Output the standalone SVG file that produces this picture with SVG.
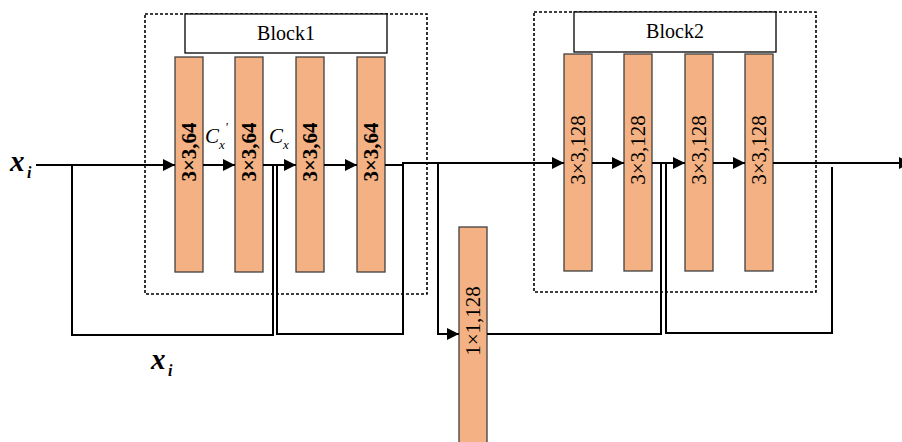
<svg xmlns="http://www.w3.org/2000/svg" width="902" height="442" viewBox="0 0 902 442">
<style>
.bar{fill:#F4B183;stroke:#404040;stroke-width:1.3}
.lbl{fill:#fff;stroke:#000;stroke-width:1.3}
.dash{fill:none;stroke:#000;stroke-width:1.6;stroke-dasharray:3,2}
.ln{fill:none;stroke:#000;stroke-width:2}
.bt{font-family:"Liberation Serif",serif;font-size:21px;text-anchor:middle;dominant-baseline:central;fill:#000}
.bold{font-weight:bold}
.tt{font-family:"Liberation Serif",serif;font-size:20px;text-anchor:middle;fill:#000}
.it{font-family:"Liberation Serif",serif;font-style:italic;fill:#000}
</style>
<defs>
<marker id="ah" markerUnits="userSpaceOnUse" markerWidth="13" markerHeight="13" refX="12" refY="6" orient="auto">
<path d="M0,0 L12,6 L0,12 Z" fill="#000"/>
</marker>
</defs>
<g id="block1-frame">
<rect class="dash" x="145" y="14" width="282" height="280"/>
<rect class="lbl" x="185" y="14" width="202" height="39"/>
<text class="tt" x="286" y="40">Block1</text>
</g>
<g id="block2-frame">
<rect class="dash" x="534" y="12" width="282" height="280"/>
<rect class="lbl" x="574" y="12" width="202" height="40"/>
<text class="tt" x="675" y="38">Block2</text>
</g>
<g id="b1c1"><rect class="bar" x="175" y="57" width="28" height="215"/><text class="bt bold" transform="translate(189,152) rotate(-90)">3×3,64</text></g>
<g id="b1c2"><rect class="bar" x="235" y="57" width="28" height="215"/><text class="bt bold" transform="translate(249,152) rotate(-90)">3×3,64</text></g>
<g id="b1c3"><rect class="bar" x="296" y="57" width="28" height="215"/><text class="bt bold" transform="translate(310,152) rotate(-90)">3×3,64</text></g>
<g id="b1c4"><rect class="bar" x="357" y="57" width="28" height="215"/><text class="bt bold" transform="translate(371,152) rotate(-90)">3×3,64</text></g>
<g id="b2c1"><rect class="bar" x="564" y="54" width="28" height="217"/><text class="bt" transform="translate(578,150) rotate(-90)">3×3,128</text></g>
<g id="b2c2"><rect class="bar" x="624" y="54" width="28" height="217"/><text class="bt" transform="translate(638,150) rotate(-90)">3×3,128</text></g>
<g id="b2c3"><rect class="bar" x="685" y="54" width="28" height="217"/><text class="bt" transform="translate(699,150) rotate(-90)">3×3,128</text></g>
<g id="b2c4"><rect class="bar" x="745" y="54" width="28" height="217"/><text class="bt" transform="translate(759,150) rotate(-90)">3×3,128</text></g>
<g id="proj"><rect class="bar" x="459" y="227" width="28" height="220"/><text class="bt" transform="translate(473,321) rotate(-90)">1×1,128</text></g>
<g id="connectors">
<path class="ln" d="M36,165 H175" marker-end="url(#ah)"/>
<path class="ln" d="M203,165 H235" marker-end="url(#ah)"/>
<path class="ln" d="M263,165 H296" marker-end="url(#ah)"/>
<path class="ln" d="M324,165 H357" marker-end="url(#ah)"/>
<path class="ln" d="M385,165 H403 V163 H564" marker-end="url(#ah)"/>
<path class="ln" d="M592,163 H624" marker-end="url(#ah)"/>
<path class="ln" d="M652,163 H685" marker-end="url(#ah)"/>
<path class="ln" d="M713,163 H745" marker-end="url(#ah)"/>
<path class="ln" d="M773,163 H911" marker-end="url(#ah)"/>
<path class="ln" d="M72,165 V335 H273 V165"/>
<path class="ln" d="M277,165 V334 H403 V163"/>
<path class="ln" d="M438,163 V334 H459" marker-end="url(#ah)"/>
<path class="ln" d="M487,334 H661 V163"/>
<path class="ln" d="M666,163 V333 H832 V167"/>
</g>
<g id="labels">
<text class="it" font-weight="bold" font-size="29" x="10" y="171">x</text>
<text class="it" font-weight="bold" font-size="16" x="27" y="178">i</text>
<text class="it" font-weight="bold" font-size="29" x="151" y="369">x</text>
<text class="it" font-weight="bold" font-size="16" x="168" y="376">i</text>
<text class="it" font-size="21" x="205" y="143">C</text>
<text class="it" font-size="13" x="219" y="149">x</text>
<text class="it" font-size="13" x="225" y="131">'</text>
<text class="it" font-size="21" x="269" y="143">C</text>
<text class="it" font-size="13" x="283" y="149">x</text>
</g>
</svg>
